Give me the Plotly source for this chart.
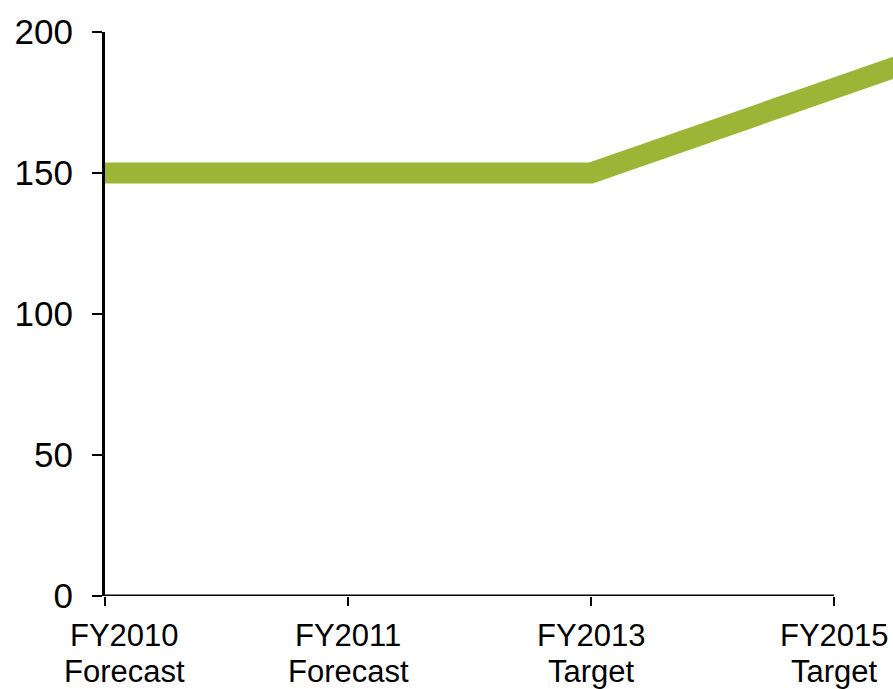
import plotly.graph_objects as go

# Category labels (two lines each) and series values
label_year = ["FY2010", "FY2011", "FY2013", "FY2015"]
label_kind = ["Forecast", "Forecast", "Target", "Target"]
positions = [0, 1, 2, 3, 4]
values = [150, 150, 150, 180, 210]
y_ticks = [0, 50, 100, 150, 200]

LINE_COLOR = "#9cb536"
FONT = "Liberation Sans, Arial, sans-serif"

fig = go.Figure()
fig.add_trace(go.Scatter(
    x=positions, y=values, mode="lines",
    line=dict(color=LINE_COLOR, width=21),
    hoverinfo="skip", showlegend=False,
))

# Horizontal axis line spans only the labelled categories
fig.add_shape(type="line", xref="x", yref="y", x0=0, x1=3, y0=0, y1=0,
              line=dict(color="black", width=3), layer="above")

# Category labels, one annotation per text line
for i, (yr, kind) in enumerate(zip(label_year, label_kind)):
    shift = 19 if i == 0 else 0
    fig.add_annotation(x=i, y=0, xref="x", yref="y", text=yr, showarrow=False,
                       xanchor="center", yanchor="middle", xshift=shift, yshift=-39,
                       font=dict(family=FONT, size=31, color="black"))
    fig.add_annotation(x=i, y=0, xref="x", yref="y", text=kind, showarrow=False,
                       xanchor="center", yanchor="middle", xshift=shift, yshift=-75,
                       font=dict(family=FONT, size=31, color="black"))

fig.update_layout(
    width=893, height=689,
    margin=dict(l=105, r=0, t=32, b=93),
    paper_bgcolor="white", plot_bgcolor="white",
    font=dict(family=FONT, size=32, color="black"),
    xaxis=dict(
        range=[0, 788 / 243], showgrid=False, zeroline=False, showline=False,
        tickmode="array", tickvals=[0, 1, 2, 3], ticktext=["", "", "", ""],
        ticks="outside", ticklen=9, tickwidth=2, tickcolor="black",
    ),
    yaxis=dict(
        range=[0, 200], showgrid=False, zeroline=False,
        showline=True, linecolor="black", linewidth=3,
        tickmode="array", tickvals=y_ticks,
        ticks="outside", ticklen=10, tickwidth=2, tickcolor="black",
        ticklabelstandoff=12,
        tickfont=dict(family=FONT, size=35, color="black"),
    ),
)

fig.write_html("out.html")
